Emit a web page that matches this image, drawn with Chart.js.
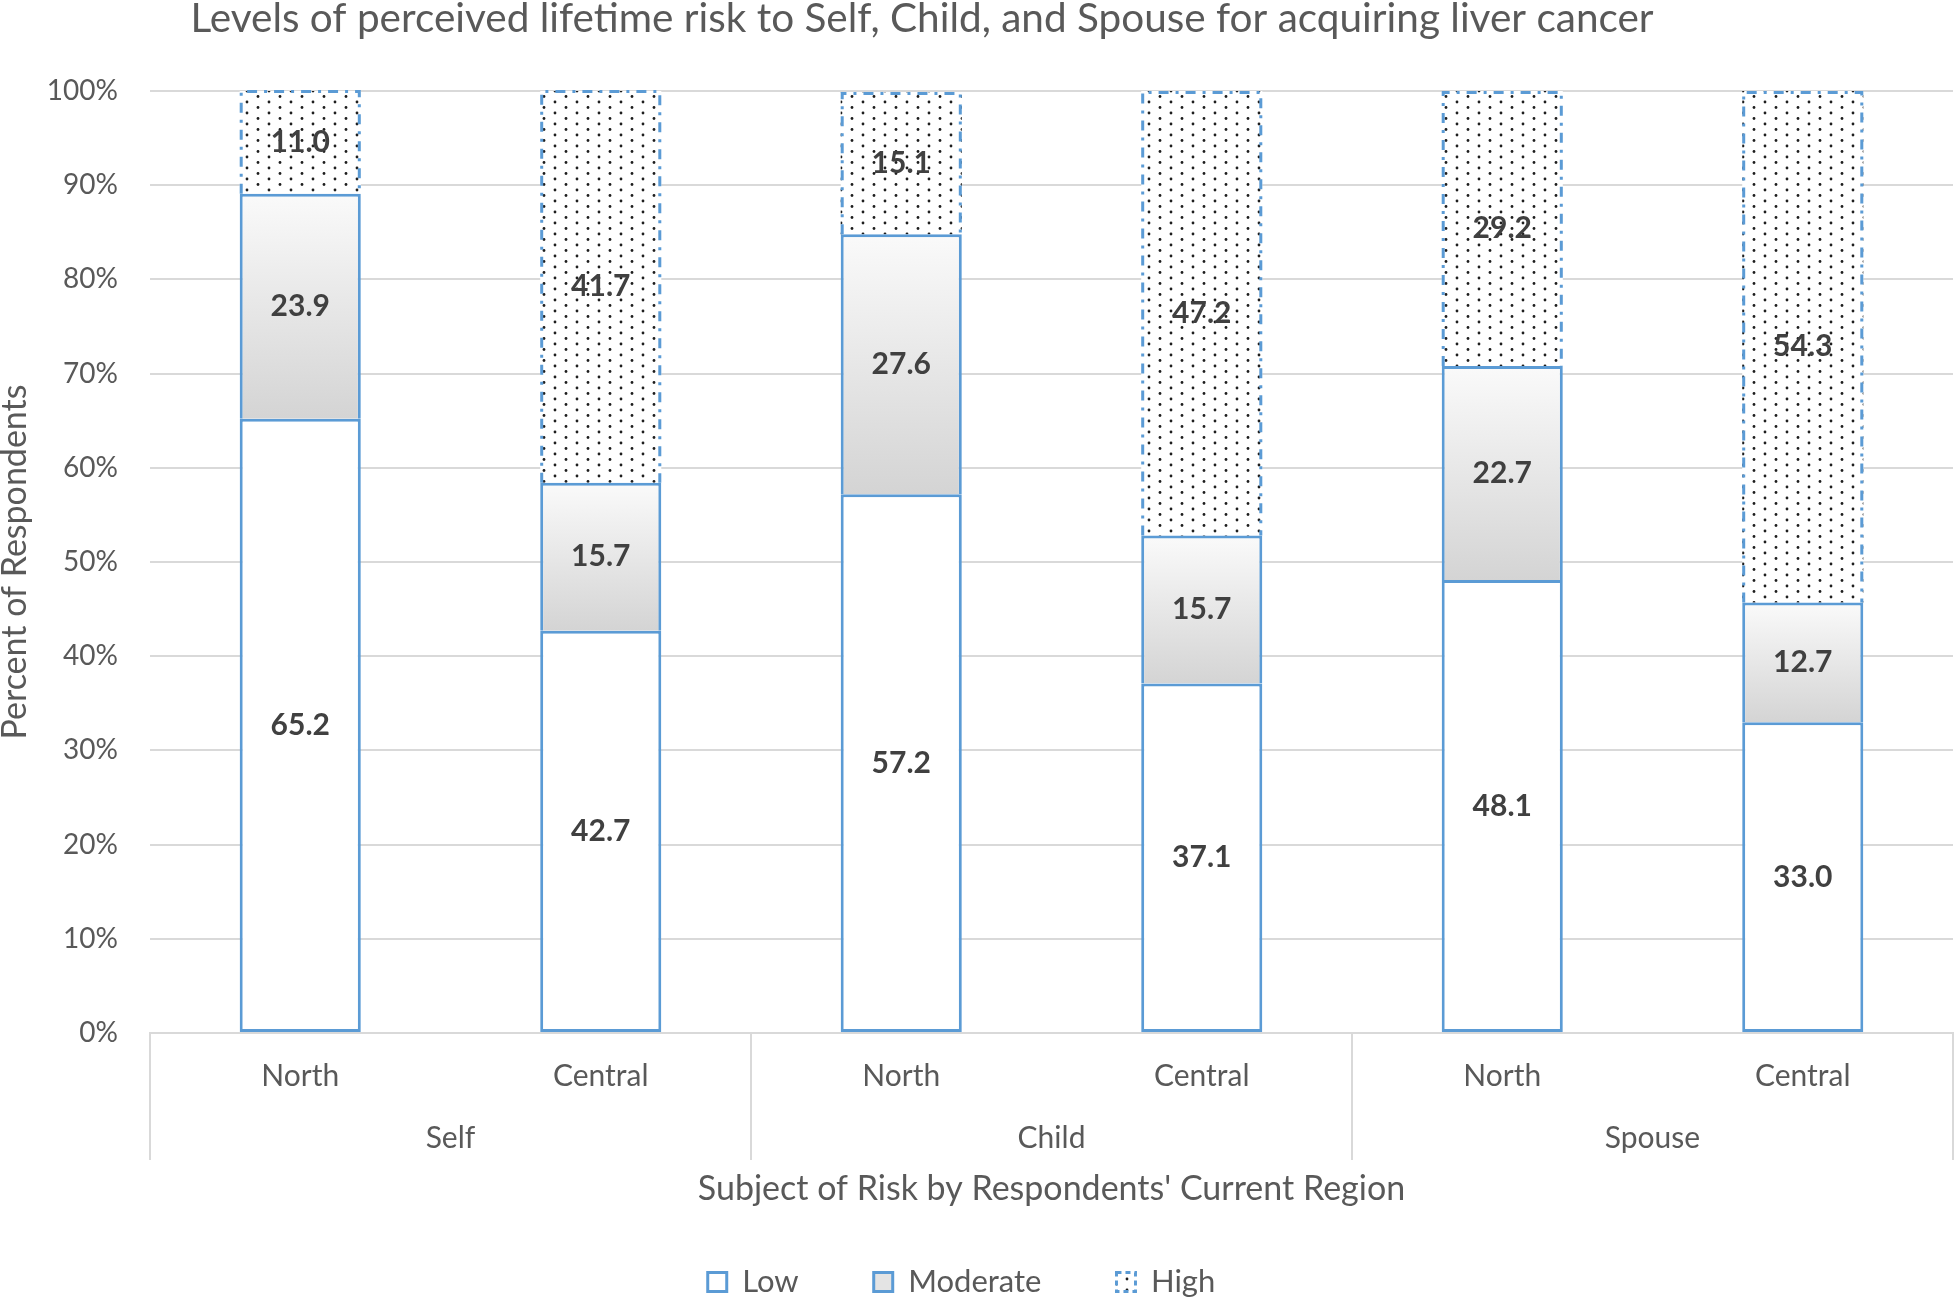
<!DOCTYPE html>
<html>
<head>
<meta charset="utf-8">
<title>Perceived lifetime risk - liver cancer</title>
<script src="https://cdn.jsdelivr.net/npm/chart.js@4"></script>
<style>
  html, body { margin: 0; padding: 0; background: #fff; }
  #wrap { width: 1956px; height: 1298px; }
</style>
</head>
<body>
<div id="wrap"><canvas id="riskChart" width="1956" height="1298"></canvas></div>
<script>
// données
const regions = ["North", "Central", "North", "Central", "North", "Central"];
const subjects = ["Self", "Child", "Spouse"];
const lowValues = [65.2, 42.7, 57.2, 37.1, 48.1, 33.0];
const moderateValues = [23.9, 15.7, 27.6, 15.7, 22.7, 12.7];
const highValues = [11.0, 41.7, 15.1, 47.2, 29.2, 54.3];
const yTicks = [0, 10, 20, 30, 40, 50, 60, 70, 80, 90, 100];

const FONT = "Lato, 'Open Sans', sans-serif";
const GREY_TEXT = "#595959";
const BLUE = "#5b9bd5";
const GRID = "#d9d9d9";

/**
 * Motif pointillé (série High)
 */
function makeDotPattern() {
  const tile = document.createElement("canvas");
  tile.width = 22;
  tile.height = 11;
  const t = tile.getContext("2d");
  t.fillStyle = "#fff";
  t.fillRect(0, 0, 22, 11);
  t.fillStyle = "#1e1e1e";
  [[5, 3], [16, 8.5]].forEach(([x, y]) => {
    t.beginPath();
    t.arc(x, y, 1.4, 0, Math.PI * 2);
    t.fill();
  });
  return document.getElementById("riskChart").getContext("2d").createPattern(tile, "repeat");
}
const dotPattern = makeDotPattern();

// dégradé vertical pour chaque segment Moderate
function moderateFill(context) {
  if (context.type !== "data") return "#e6e6e6";
  const y = context.chart.scales.y;
  if (!y) return "#e6e6e6";
  const i = context.dataIndex;
  const start = lowValues[i];
  const end = start + moderateValues[i];
  const top = y.getPixelForValue(end);
  const bottom = y.getPixelForValue(start);
  if (!isFinite(top) || !isFinite(bottom) || top === bottom) return "#e6e6e6";
  const g = context.chart.ctx.createLinearGradient(0, top, 0, bottom);
  g.addColorStop(0, "#fafafa");
  g.addColorStop(1, "#d4d4d4");
  return g;
}

// bordure pointillée des barres High + étiquettes de valeur
const barDecorations = {
  id: "barDecorations",
  afterDatasetsDraw(chart) {
    const ctx = chart.ctx;
    const highMeta = chart.getDatasetMeta(2);
    ctx.save();
    ctx.strokeStyle = BLUE;
    ctx.lineWidth = 3;
    ctx.setLineDash([10, 7, 3, 7]);
    highMeta.data.forEach(bar => {
      const half = bar.width / 2;
      const left = bar.x - half + 1.5;
      const right = bar.x + half - 1.5;
      const top = bar.y + 1.5;
      ctx.beginPath();
      ctx.moveTo(left, bar.base);
      ctx.lineTo(left, top);
      ctx.lineTo(right, top);
      ctx.lineTo(right, bar.base);
      ctx.stroke();
    });
    ctx.restore();

    // valeurs au centre de chaque segment
    ctx.save();
    ctx.font = "bold 30px " + FONT;
    ctx.fillStyle = "#404040";
    ctx.textAlign = "center";
    ctx.textBaseline = "middle";
    chart.data.datasets.forEach((ds, di) => {
      chart.getDatasetMeta(di).data.forEach((bar, i) => {
        ctx.fillText(ds.data[i].toFixed(1), bar.x, (bar.y + bar.base) / 2);
      });
    });
    ctx.restore();
  }
};

// titre, axe X à deux niveaux (groupes + séparateurs) et titre de l'axe X
const extraText = {
  id: "extraText",
  afterLayout(chart) {
    // légende un peu décalée à gauche comme dans l'original
    if (chart.legend) {
      chart.legend.left -= 15;
      chart.legend.right -= 15;
    }
  },
  afterDraw(chart) {
    const ctx = chart.ctx;
    const x = chart.scales.x;
    const bottom = chart.chartArea.bottom;
    ctx.save();

    ctx.font = "40.5px " + FONT;
    ctx.fillStyle = GREY_TEXT;
    ctx.textAlign = "center";
    ctx.textBaseline = "middle";
    ctx.fillText("Levels of perceived lifetime risk to Self, Child, and Spouse for acquiring liver cancer", 922, 19);

    // séparateurs de groupes
    ctx.strokeStyle = GRID;
    ctx.lineWidth = 2;
    const edges = [x.left];
    for (let g = 1; g < subjects.length; g++) {
      edges.push((x.getPixelForValue(2 * g - 1) + x.getPixelForValue(2 * g)) / 2);
    }
    edges.push(x.right);
    edges.forEach(px => {
      ctx.beginPath();
      ctx.moveTo(px, bottom);
      ctx.lineTo(px, bottom + 127);
      ctx.stroke();
    });

    ctx.font = "30px " + FONT;
    subjects.forEach((name, g) => {
      const cx = (x.getPixelForValue(2 * g) + x.getPixelForValue(2 * g + 1)) / 2;
      ctx.fillText(name, cx, bottom + 105);
    });
    ctx.font = "34px " + FONT;
    ctx.fillText("Subject of Risk by Respondents' Current Region", (x.left + x.right) / 2, bottom + 156);
    ctx.restore();
  }
};

new Chart(document.getElementById("riskChart"), {
  type: "bar",
  data: {
    labels: regions,
    datasets: [
      {
        label: "Low",
        data: lowValues,
        backgroundColor: "#ffffff",
        borderColor: BLUE,
        borderWidth: 3,
        borderSkipped: false
      },
      {
        label: "Moderate",
        data: moderateValues,
        backgroundColor: moderateFill,
        borderColor: BLUE,
        borderWidth: 3,
        borderSkipped: "start"
      },
      {
        label: "High",
        data: highValues,
        backgroundColor: dotPattern,
        borderWidth: 0
      }
    ]
  },
  options: {
    responsive: false,
    animation: false,
    layout: { padding: { top: 91, left: 0, right: 3, bottom: 0 } },
    datasets: { bar: { barPercentage: 0.403, categoryPercentage: 1 } },
    scales: {
      x: {
        stacked: true,
        grid: { display: false },
        border: { display: true, color: GRID, width: 2 },
        ticks: { color: GREY_TEXT, font: { family: FONT, size: 30 }, padding: 17, maxRotation: 0 },
        afterFit(scale) { scale.height = 158.5; }
      },
      y: {
        stacked: true,
        min: 0,
        max: 100,
        afterBuildTicks(scale) { scale.ticks = yTicks.map(v => ({ value: v })); },
        grid: { color: GRID, lineWidth: 2, drawTicks: false },
        border: { display: false },
        ticks: {
          color: GREY_TEXT,
          font: { family: FONT, size: 28 },
          padding: 32,
          callback: v => v + "%"
        },
        title: {
          display: true,
          text: "Percent of Respondents",
          color: GREY_TEXT,
          font: { family: FONT, size: 34 },
          padding: { top: -5, bottom: 0 }
        },
        afterFit(scale) { scale.width = 150; }
      }
    },
    plugins: {
      title: { display: false },
      tooltip: { enabled: false },
      legend: {
        position: "bottom",
        maxHeight: 106.5,
        labels: {
          color: GREY_TEXT,
          font: { family: FONT, size: 31 },
          boxWidth: 19,
          boxHeight: 19,
          padding: 75,
          generateLabels() {
            return [
              { text: "Low", fillStyle: "#ffffff", strokeStyle: BLUE, lineWidth: 3, datasetIndex: 0, fontColor: GREY_TEXT },
              { text: "Moderate", fillStyle: "#e4e4e4", strokeStyle: BLUE, lineWidth: 3, datasetIndex: 1, fontColor: GREY_TEXT },
              { text: "High", fillStyle: dotPattern, strokeStyle: BLUE, lineWidth: 3, lineDash: [5, 4], datasetIndex: 2, fontColor: GREY_TEXT }
            ];
          }
        }
      }
    }
  },
  plugins: [barDecorations, extraText]
});
</script>
</body>
</html>
